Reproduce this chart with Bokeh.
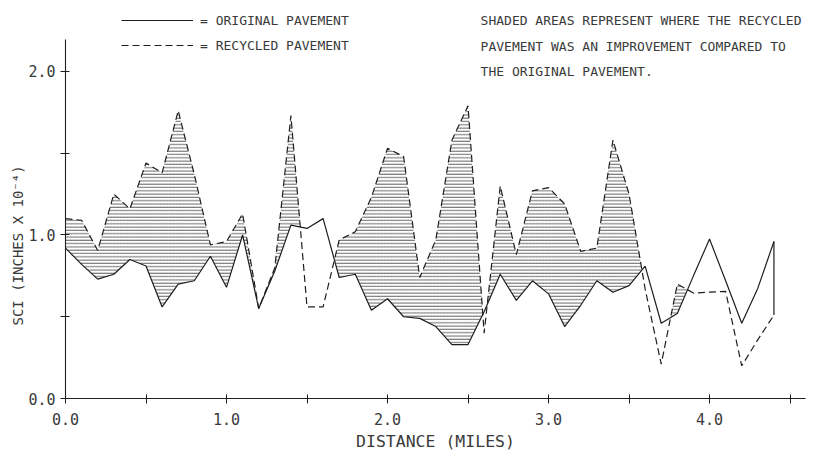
from bokeh.plotting import figure
from bokeh.models import (FixedTicker, PrintfTickFormatter, Label, Range1d, Legend,
                          LegendItem, Title)
from bokeh.embed import file_html
from bokeh.resources import INLINE

# ---- data ----
distance = [0.0, 0.1, 0.2, 0.3, 0.4, 0.5, 0.6, 0.7, 0.8, 0.9,
            1.0, 1.1, 1.2, 1.3, 1.4, 1.5, 1.6, 1.7, 1.8, 1.9,
            2.0, 2.1, 2.2, 2.3, 2.4, 2.5, 2.6, 2.7, 2.8, 2.9,
            3.0, 3.1, 3.2, 3.3, 3.4, 3.5, 3.6, 3.7, 3.8, 3.9,
            4.0, 4.1, 4.2, 4.3, 4.4]
original = [0.92, 0.82, 0.73, 0.76, 0.85, 0.81, 0.56, 0.70, 0.72, 0.87,
            0.68, 1.00, 0.55, 0.78, 1.06, 1.04, 1.10, 0.74, 0.76, 0.54,
            0.61, 0.50, 0.49, 0.44, 0.33, 0.33, 0.53, 0.76, 0.60, 0.72,
            0.64, 0.44, 0.57, 0.72, 0.65, 0.69, 0.81, 0.46, 0.52, 0.75,
            0.975, 0.72, 0.46, 0.675, 0.96]
recycled = [1.10, 1.09, 0.905, 1.25, 1.16, 1.44, 1.38, 1.76, 1.37, 0.94,
            0.96, 1.13, 0.55, 0.80, 1.73, 0.56, 0.56, 0.97, 1.02, 1.23,
            1.53, 1.48, 0.74, 0.97, 1.58, 1.79, 0.40, 1.30, 0.88, 1.27,
            1.29, 1.19, 0.90, 0.92, 1.58, 1.25, 0.67, 0.21, 0.70, 0.645,
            0.65, 0.655, 0.20, 0.36, 0.51]
x_ticks = [0, 1, 2, 3, 4]
x_minor = [0.5, 1.5, 2.5, 3.5, 4.5]
y_ticks = [0, 1, 2]
y_minor = [0.5, 1.5]

legend_original = "= ORIGINAL PAVEMENT"
legend_recycled = "= RECYCLED PAVEMENT"
note_lines = ["SHADED AREAS REPRESENT WHERE THE RECYCLED",
              "PAVEMENT WAS AN IMPROVEMENT COMPARED TO",
              "THE ORIGINAL PAVEMENT."]
x_title = "DISTANCE (MILES)"
y_title = "SCI (INCHES X 10\u207b\u2074)"

FONT = "DejaVu Sans Mono"
INK = "#1e1e1e"
TXT = "#3a3a3a"

# ---- shaded region where recycled is above original (with crossings) ----
fx, flo, fhi = [], [], []
n = len(distance)
for i in range(n):
    fx.append(distance[i]); flo.append(original[i]); fhi.append(max(original[i], recycled[i]))
    if i < n - 1:
        a = recycled[i] - original[i]
        b = recycled[i + 1] - original[i + 1]
        if a * b < 0:
            t = a / (a - b)
            xc = distance[i] + t * (distance[i + 1] - distance[i])
            yc = original[i] + t * (original[i + 1] - original[i])
            fx.append(xc); flo.append(yc); fhi.append(yc)

p = figure(width=818, height=455, output_backend="svg", toolbar_location=None, title=None,
           x_range=Range1d(0, 4.596), y_range=Range1d(0, 2.434),
           min_border_left=65, min_border_right=13, min_border_top=0, min_border_bottom=57)
p.outline_line_color = None
p.grid.visible = False
p.background_fill_color = "white"
p.border_fill_color = "white"

p.varea(x=fx, y1=flo, y2=fhi, fill_color=None, fill_alpha=0,
        hatch_pattern="horizontal_line", hatch_scale=3.3, hatch_weight=0.8,
        hatch_color="#3c3c3c")

r_orig = p.line(distance, original, line_color=INK, line_width=1.2)
r_rec = p.line(distance, recycled, line_color=INK, line_width=1.2, line_dash="7 4")
p.segment(x0=[distance[-1]], y0=[original[-1]], x1=[distance[-1]], y1=[recycled[-1]],
          line_color=INK, line_width=1.2)

# ---- axes ----
for ax, tk, mn in ((p.xaxis[0], x_ticks, x_minor), (p.yaxis[0], y_ticks, y_minor)):
    ax.ticker = FixedTicker(ticks=tk, minor_ticks=mn)
    ax.formatter = PrintfTickFormatter(format="%.1f")
    ax.axis_line_color = INK
    ax.axis_line_width = 1.1
    ax.major_tick_line_color = INK
    ax.minor_tick_line_color = INK
    ax.major_tick_in = 4
    ax.major_tick_out = 5
    ax.minor_tick_in = 4
    ax.minor_tick_out = 5
    ax.major_label_text_font = FONT
    ax.major_label_text_font_size = "15px"
    ax.major_label_text_color = TXT
p.yaxis.bounds = (0, 2.196)
p.xaxis.major_label_standoff = 9
p.yaxis.major_label_standoff = 5

p.xaxis.axis_label = x_title
p.xaxis.axis_label_standoff = 4
p.xaxis.axis_label_text_font = FONT
p.xaxis.axis_label_text_font_size = "16.5px"
p.xaxis.axis_label_text_font_style = "normal"
p.xaxis.axis_label_text_color = TXT

# ---- y axis title ----
p.add_layout(Title(text=y_title, align="left", offset=73, standoff=0,
                   text_font=FONT, text_font_size="14px", text_font_style="normal",
                   text_color=TXT), "left")

# ---- legend ----
legend = Legend(items=[LegendItem(label=legend_original, renderers=[r_orig]),
                       LegendItem(label=legend_recycled, renderers=[r_rec])],
                location=(56, 343), orientation="vertical",
                glyph_width=72, glyph_height=20, label_height=20, label_standoff=7,
                spacing=5, padding=0, margin=0,
                border_line_color=None, background_fill_alpha=0,
                label_text_font=FONT, label_text_font_size="13px", label_text_color=TXT)
p.add_layout(legend)

# ---- note ----
for yy, line in zip((2.312, 2.153, 2.0), note_lines):
    p.add_layout(Label(x=2.578, y=yy, text=line, text_font=FONT, text_font_size="13px",
                       text_color=TXT, text_baseline="middle"))

open("out.html", "w").write(file_html(p, INLINE))
